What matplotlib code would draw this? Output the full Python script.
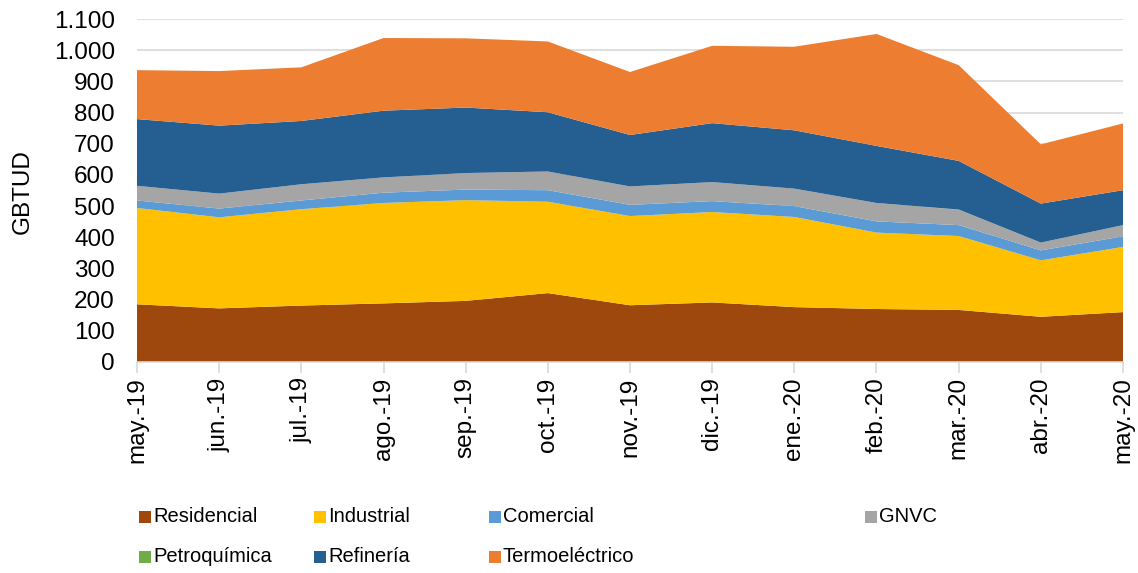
import matplotlib
matplotlib.use("Agg")
import matplotlib.pyplot as plt
from matplotlib.patches import Rectangle
from matplotlib.ticker import FuncFormatter, MultipleLocator
import numpy as np

plt.rcParams['font.family'] = ['Liberation Sans', 'DejaVu Sans']

# Datos (GBTUD)
meses = ['may.-19', 'jun.-19', 'jul.-19', 'ago.-19', 'sep.-19', 'oct.-19', 'nov.-19',
         'dic.-19', 'ene.-20', 'feb.-20', 'mar.-20', 'abr.-20', 'may.-20']
residencial = [185, 172, 181, 188, 196, 221, 182, 191, 176, 170, 167, 145, 160]
industrial = [309, 292, 309, 322, 323, 293, 286, 290, 289, 245, 237, 181, 209]
comercial = [24, 28, 28, 33, 34, 37, 36, 35, 35, 36, 35, 32, 34]
gnvc = [47, 48, 52, 49, 53, 60, 59, 61, 56, 59, 49, 25, 36]
petroquimica = [0, 0, 0, 0, 0, 0, 0, 0, 0, 0, 1, 0, 0]
refineria = [214, 218, 203, 214, 210, 190, 165, 189, 187, 183, 156, 125, 112]
termoelectrico = [157, 175, 172, 233, 222, 227, 202, 248, 268, 359, 307, 190, 214]

nombres = ['Residencial', 'Industrial', 'Comercial', 'GNVC',
           'Petroquímica', 'Refinería', 'Termoeléctrico']
colores = ['#9E480E', '#FFC000', '#5B9BD5', '#A5A5A5',
           '#70AD47', '#255E91', '#ED7D31']
series = [residencial, industrial, comercial, gnvc, petroquimica, refineria, termoelectrico]

W, H = 1138, 573
fig = plt.figure(figsize=(W / 100, H / 100), dpi=100)
ax = fig.add_axes([137 / W, 1 - 362 / H, (1123 - 137) / W, (362 - 19) / H])

x = np.arange(len(meses))
ax.stackplot(x, *series, colors=colores, linewidth=0, zorder=2)

ax.set_xlim(0, len(meses) - 1)
ax.set_ylim(0, 1100)
ax.yaxis.set_major_locator(MultipleLocator(100))
ax.yaxis.set_major_formatter(FuncFormatter(lambda v, p: f"{int(v):,}".replace(",", ".")))
ax.grid(axis='y', color='#D9D9D9', linewidth=1.2, zorder=0)
ax.set_axisbelow(True)

ax.set_xticks(x)
ax.set_xticklabels(meses, rotation=90, fontsize=17.5)
ax.tick_params(axis='x', length=8, color='#D9D9D9', width=1.2, pad=3)
ax.tick_params(axis='y', length=0, labelsize=17.5, pad=16)

for s in ['top', 'right', 'left']:
    ax.spines[s].set_visible(False)
ax.spines['bottom'].set_color('#D9D9D9')
ax.spines['bottom'].set_linewidth(1.2)
ax.spines['bottom'].set_zorder(3)

fig.text(23 / W, 1 - 192 / H, 'GBTUD', rotation=90, fontsize=17.5, ha='center', va='center')

# Leyenda
col_x = [139, 314, 489, 865]
fila_y = [517, 557]
lado = 12
for i, (nombre, color) in enumerate(zip(nombres, colores)):
    px = col_x[i % 4]
    py = fila_y[i // 4]
    fig.add_artist(Rectangle((px / W, 1 - (py + lado / 2) / H), lado / W, lado / H,
                             transform=fig.transFigure, color=color, linewidth=0))
    fig.text((px + lado + 2) / W, 1 - py / H, nombre, fontsize=14.5, ha='left', va='center')

fig.savefig('out.png', dpi=100)
